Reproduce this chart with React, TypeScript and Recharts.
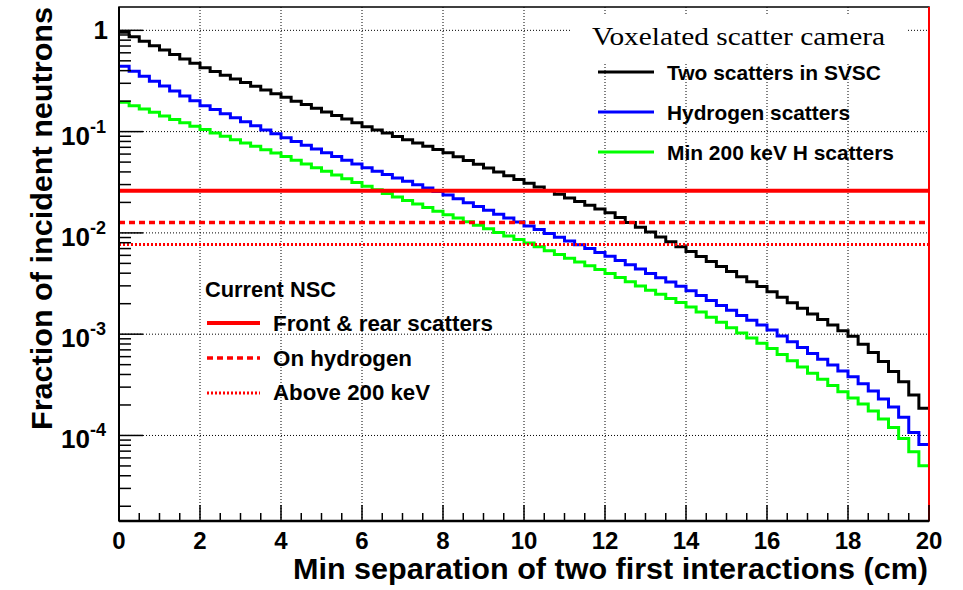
import { LineChart, Line, XAxis, YAxis, ReferenceLine, ReferenceArea } from "recharts";

// 80 bins of 0.25 cm
const BIN_WIDTH = 0.25;

const TWO_SCATTERS = [
  0.955, 0.863, 0.78, 0.706, 0.638, 0.577, 0.521, 0.472,
  0.427, 0.392, 0.361, 0.331, 0.305, 0.28, 0.258, 0.237,
  0.218, 0.2, 0.185, 0.17, 0.156, 0.144, 0.133, 0.122,
  0.112, 0.104, 0.0968, 0.0897, 0.0832, 0.0773, 0.0716, 0.0665,
  0.0617, 0.0566, 0.0519, 0.0476, 0.0437, 0.04, 0.0367, 0.0337,
  0.0309, 0.0284, 0.0262, 0.0241, 0.0221, 0.0204, 0.0187, 0.0172,
  0.0158, 0.0142, 0.0127, 0.0114, 0.0102, 0.00912, 0.00817, 0.00731,
  0.00655, 0.00584, 0.00521, 0.00465, 0.00415, 0.0037, 0.0033, 0.00295,
  0.00263, 0.00232, 0.00204, 0.0018, 0.00158, 0.0014, 0.00123, 0.00108,
  0.000955, 0.000794, 0.000661, 0.000537, 0.000427, 0.000339, 0.000251, 0.000186,
];

const HYDROGEN = [
  0.441, 0.394, 0.352, 0.315, 0.282, 0.252, 0.225, 0.202,
  0.18, 0.165, 0.15, 0.137, 0.125, 0.114, 0.104, 0.0954,
  0.0871, 0.0799, 0.0734, 0.0675, 0.0618, 0.0568, 0.0521, 0.0479,
  0.044, 0.0407, 0.0377, 0.0349, 0.0323, 0.0299, 0.0277, 0.0256,
  0.0237, 0.0217, 0.0199, 0.0182, 0.0167, 0.0153, 0.014, 0.0128,
  0.0117, 0.0108, 0.00989, 0.00907, 0.00832, 0.00763, 0.007, 0.00642,
  0.00589, 0.00534, 0.00484, 0.00439, 0.00398, 0.00361, 0.00327, 0.00297,
  0.00269, 0.00241, 0.00215, 0.00192, 0.00172, 0.00153, 0.00137, 0.00123,
  0.0011, 0.000961, 0.000841, 0.000737, 0.000646, 0.000566, 0.000495, 0.000434,
  0.00038, 0.000324, 0.000275, 0.000229, 0.000191, 0.000151, 0.000107, 0.0000813,
];

const MIN_200KEV = [
  0.195, 0.18, 0.167, 0.155, 0.143, 0.132, 0.122, 0.113,
  0.105, 0.097, 0.0899, 0.0833, 0.0772, 0.0715, 0.0662, 0.0614,
  0.0569, 0.0523, 0.048, 0.0441, 0.0405, 0.0372, 0.0342, 0.0314,
  0.0288, 0.0266, 0.0245, 0.0226, 0.0209, 0.0193, 0.0178, 0.0164,
  0.0151, 0.014, 0.0129, 0.0119, 0.011, 0.0101, 0.00933, 0.00861,
  0.00794, 0.00729, 0.00668, 0.00613, 0.00562, 0.00516, 0.00473, 0.00434,
  0.00398, 0.00362, 0.00329, 0.00299, 0.00272, 0.00248, 0.00225, 0.00205,
  0.00186, 0.00166, 0.00147, 0.00131, 0.00116, 0.00103, 0.000918, 0.000815,
  0.000724, 0.00063, 0.000546, 0.000474, 0.000412, 0.000358, 0.000311, 0.00027,
  0.000234, 0.000204, 0.000174, 0.000145, 0.00012, 0.0000933, 0.0000692, 0.0000501,
];

// current NSC levels: front & rear, on hydrogen, above 200 keV
const NSC_FRONT_REAR = 0.026;
const NSC_HYDROGEN = 0.0127;
const NSC_ABOVE_200 = 0.0077;

const X_DOMAIN = [0, 20];
const Y_DOMAIN = [1.43e-5, 1.7];
const X_LABELS = [0, 2, 4, 6, 8, 10, 12, 14, 16, 18, 20];
const X_MINOR = [0.5, 1, 1.5];
const X_GRID = [2, 4, 6, 8, 10, 12, 14, 16, 18];
const Y_DECADES = [1, 0.1, 0.01, 0.001, 0.0001];
const Y_EXPONENTS = ["0", "-1", "-2", "-3", "-4"];
const Y_MULT = [2, 3, 4, 5, 6, 7, 8, 9];

const FONT = '"Liberation Sans", Arial, sans-serif';
const W = 963;
const H = 590;
const PLOT_LEFT = 119;
const PLOT_BOTTOM = 521;

const data = TWO_SCATTERS.map((v, i) => ({
  x: i * BIN_WIDTH,
  black: v,
  blue: HYDROGEN[i],
  green: MIN_200KEV[i],
}));
// close the last bin at the right edge
data.push({
  x: X_DOMAIN[1],
  black: TWO_SCATTERS[TWO_SCATTERS.length - 1],
  blue: HYDROGEN[HYDROGEN.length - 1],
  green: MIN_200KEV[MIN_200KEV.length - 1],
});

const xTicks: number[] = [];
X_LABELS.forEach((v) => {
  xTicks.push(v);
  if (v < X_DOMAIN[1]) X_MINOR.forEach((m) => xTicks.push(v + m));
});

const yTicks: number[] = [];
[1e-5, ...Y_DECADES.slice().reverse()].forEach((d) => {
  yTicks.push(d);
  Y_MULT.forEach((m) => {
    const t = d * m;
    if (t <= Y_DOMAIN[1]) yTicks.push(t);
  });
});
const yTicksInRange = yTicks.filter((t) => t >= Y_DOMAIN[0] && t <= Y_DOMAIN[1]);

const XTick = (props: any) => {
  const { x, payload } = props;
  const v = payload.value as number;
  const major = X_LABELS.includes(v);
  return (
    <g>
      <line
        x1={x}
        x2={x}
        y1={PLOT_BOTTOM}
        y2={PLOT_BOTTOM - (major ? 16 : 8)}
        stroke="#000"
        strokeWidth={1.5}
      />
      {major && (
        <text
          x={x}
          y={PLOT_BOTTOM + 28}
          textAnchor="middle"
          fontFamily={FONT}
          fontWeight="bold"
          fontSize={24}
          fill="#000"
        >
          {v}
        </text>
      )}
    </g>
  );
};

const YTick = (props: any) => {
  const { y, payload } = props;
  const v = payload.value as number;
  const idx = Y_DECADES.findIndex((d) => Math.abs(v / d - 1) < 1e-6);
  const major = idx >= 0;
  return (
    <g>
      <line
        x1={PLOT_LEFT}
        x2={PLOT_LEFT + (major ? 24 : 12)}
        y1={y}
        y2={y}
        stroke="#000"
        strokeWidth={1.5}
      />
      {major && idx === 0 && (
        <text x={108} y={y + 9} textAnchor="end" fontFamily={FONT} fontWeight="bold" fontSize={26} fill="#000">
          1
        </text>
      )}
      {major && idx > 0 && (
        <g fontFamily={FONT} fontWeight="bold" fill="#000">
          <text x={90} y={y + 13} textAnchor="end" fontSize={26}>
            10
          </text>
          <text x={90} y={y + 1} textAnchor="start" fontSize={18}>
            {Y_EXPONENTS[idx]}
          </text>
        </g>
      )}
    </g>
  );
};

const Legends = () => (
  <svg
    width={W}
    height={H}
    style={{ position: "absolute", left: 0, top: 0, pointerEvents: "none" }}
  >
    <rect x={572} y={14} width={336} height={48} fill="#fff" />
    <text
      x={592}
      y={45}
      fontFamily='"Liberation Serif", "Times New Roman", serif'
      fontSize={26}
      textLength={293}
      lengthAdjust="spacingAndGlyphs"
      fill="#000"
    >
      Voxelated scatter camera
    </text>
    <g fontFamily={FONT} fontWeight="bold" fontSize={21} fill="#000">
      <line x1={598} x2={654} y1={72} y2={72} stroke="#000" strokeWidth={3} />
      <text x={667} y={80} textLength={214} lengthAdjust="spacingAndGlyphs">
        Two scatters in SVSC
      </text>
      <line x1={598} x2={654} y1={112} y2={112} stroke="#0000ff" strokeWidth={3} />
      <text x={667} y={120} textLength={183} lengthAdjust="spacingAndGlyphs">
        Hydrogen scatters
      </text>
      <line x1={598} x2={654} y1={152} y2={152} stroke="#00ff00" strokeWidth={3} />
      <text x={667} y={160} textLength={227} lengthAdjust="spacingAndGlyphs">
        Min 200 keV H scatters
      </text>
    </g>
    <g fontFamily={FONT} fontWeight="bold" fontSize={22} fill="#000">
      <text x={205} y={297} textLength={131} lengthAdjust="spacingAndGlyphs">
        Current NSC
      </text>
      <line x1={207} x2={260} y1={323} y2={323} stroke="#ff0000" strokeWidth={4} />
      <text x={273} y={331} textLength={220} lengthAdjust="spacingAndGlyphs">
        Front &amp; rear scatters
      </text>
      <line x1={207} x2={260} y1={358} y2={358} stroke="#ff0000" strokeWidth={3.5} strokeDasharray="6 4" />
      <text x={273} y={366} textLength={139} lengthAdjust="spacingAndGlyphs">
        On hydrogen
      </text>
      <line x1={207} x2={260} y1={393} y2={393} stroke="#ff0000" strokeWidth={3} strokeDasharray="2 2" />
      <text x={273} y={400} textLength={157} lengthAdjust="spacingAndGlyphs">
        Above 200 keV
      </text>
    </g>
    <text
      x={52}
      y={430}
      transform="rotate(-90 52 430)"
      fontFamily={FONT}
      fontWeight="bold"
      fontSize={30}
      textLength={423}
      lengthAdjust="spacingAndGlyphs"
      fill="#000"
    >
      Fraction of incident neutrons
    </text>
    <text
      x={293}
      y={579}
      fontFamily={FONT}
      fontWeight="bold"
      fontSize={29}
      textLength={635}
      lengthAdjust="spacingAndGlyphs"
      fill="#000"
    >
      Min separation of two first interactions (cm)
    </text>
  </svg>
);

export default function App() {
  return (
    <div style={{ position: "absolute", left: 0, top: 0, width: W, height: H, background: "#fff" }}>
      <LineChart width={W} height={H} data={data} margin={{ top: 7, right: 34, bottom: 0, left: 0 }}>
        <XAxis
          dataKey="x"
          type="number"
          domain={X_DOMAIN}
          ticks={xTicks}
          interval={0}
          height={69}
          tickLine={false}
          axisLine={{ stroke: "#000", strokeWidth: 2.5 }}
          tick={<XTick />}
          allowDataOverflow
        />
        <YAxis
          type="number"
          scale="log"
          domain={Y_DOMAIN}
          ticks={yTicksInRange}
          interval={0}
          width={PLOT_LEFT}
          tickLine={false}
          axisLine={{ stroke: "#000", strokeWidth: 2 }}
          tick={<YTick />}
          allowDataOverflow
        />
        {X_GRID.map((v) => (
          <ReferenceLine key={"gx" + v} x={v} stroke="#000" strokeWidth={1} strokeDasharray="1 2" />
        ))}
        {Y_DECADES.map((v) => (
          <ReferenceLine key={"gy" + v} y={v} stroke="#000" strokeWidth={1} strokeDasharray="1 2" />
        ))}
        <ReferenceArea
          x1={X_DOMAIN[0]}
          x2={X_DOMAIN[1]}
          y1={Y_DOMAIN[0]}
          y2={Y_DOMAIN[1]}
          fill="none"
          fillOpacity={0}
          stroke="#000"
          strokeWidth={1.5}
        />
        <Line type="stepAfter" dataKey="black" stroke="#000000" strokeWidth={3} dot={false} isAnimationActive={false} />
        <Line type="stepAfter" dataKey="blue" stroke="#0000ff" strokeWidth={3} dot={false} isAnimationActive={false} />
        <Line type="stepAfter" dataKey="green" stroke="#00ff00" strokeWidth={3} dot={false} isAnimationActive={false} />
        <ReferenceLine y={NSC_FRONT_REAR} stroke="#ff0000" strokeWidth={4} />
        <ReferenceLine y={NSC_HYDROGEN} stroke="#ff0000" strokeWidth={3.5} strokeDasharray="6 4" />
        <ReferenceLine y={NSC_ABOVE_200} stroke="#ff0000" strokeWidth={3} strokeDasharray="2 2" />
        <ReferenceLine x={X_DOMAIN[1]} stroke="#ff0000" strokeWidth={2} />
      </LineChart>
      <Legends />
    </div>
  );
}
